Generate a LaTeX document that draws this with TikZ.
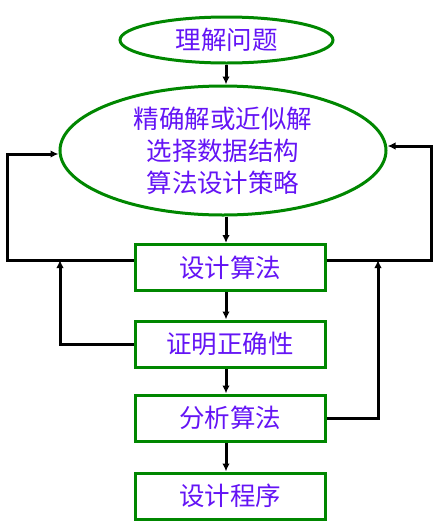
\documentclass[tikz,border=0pt]{standalone}
\usepackage{fontspec}
\usepackage{xcolor}
\usepackage{tikz}
\usetikzlibrary{arrows.meta,positioning,shapes.geometric}
\newfontfamily\cjk{Noto Sans CJK SC}
\definecolor{flgreen}{RGB}{0,135,0}
\definecolor{flink}{RGB}{100,20,245}
\definecolor{fledge}{RGB}{0,0,0}
\tikzset{
  flbase/.style={
    draw=flgreen, line width=3pt, align=center, inner sep=0pt,
    text=flink, font=\cjk\fontsize{25.5}{32}\selectfont
  },
  oval/.style={flbase, ellipse},
  stepbox/.style={flbase, rectangle, minimum width=190pt, minimum height=46pt},
  arr/.style={-{Latex[length=8pt,width=7.5pt]}, draw=fledge, line width=3pt},
  seg/.style={draw=fledge, line width=3pt}
}
\begin{document}
\begin{tikzpicture}[x=1pt,y=-1pt]
  \useasboundingbox (0,0) rectangle (442,531);
  \node[oval, minimum width=213pt, minimum height=46pt] (understand) at (226.5,40) {理解问题};
  \node[oval, minimum width=326pt, minimum height=129pt] (choose) at (223,150.5) {精确解或近似解\\选择数据结构\\算法设计策略};
  \node[stepbox] (design) at (230,267.5) {设计算法};
  \node[stepbox] (prove) at (230,344) {证明正确性};
  \node[stepbox] (analyse) at (230,418) {分析算法};
  \node[stepbox] (code) at (230,496) {设计程序};
  \coordinate (lp) at (60,260);
  \coordinate (rp) at (378,260);
  \draw[arr] (understand.south -| 226,0) -- (choose.north -| 226,0);
  \draw[arr] (choose.south -| 226,0) -- (design.north -| 226,0);
  \draw[arr] (design.south -| 226,0) -- (prove.north -| 226,0);
  \draw[arr] (prove.south -| 226,0) -- (analyse.north -| 226,0);
  \draw[arr] (analyse.south -| 226,0) -- (code.north -| 226,0);
  % outer loops back to the strategy oval
  \draw[arr] (design.west |- 0,260) -- (7,260) |- (choose.west |- 0,154);
  \draw[arr] (design.east |- 0,260) -- (431,260) |- (choose.east |- 0,146);
  % inner loops back to the design step
  \draw[arr] (prove.west) -| (lp);
  \draw[arr] (analyse.east) -| (rp);
\end{tikzpicture}
\end{document}
